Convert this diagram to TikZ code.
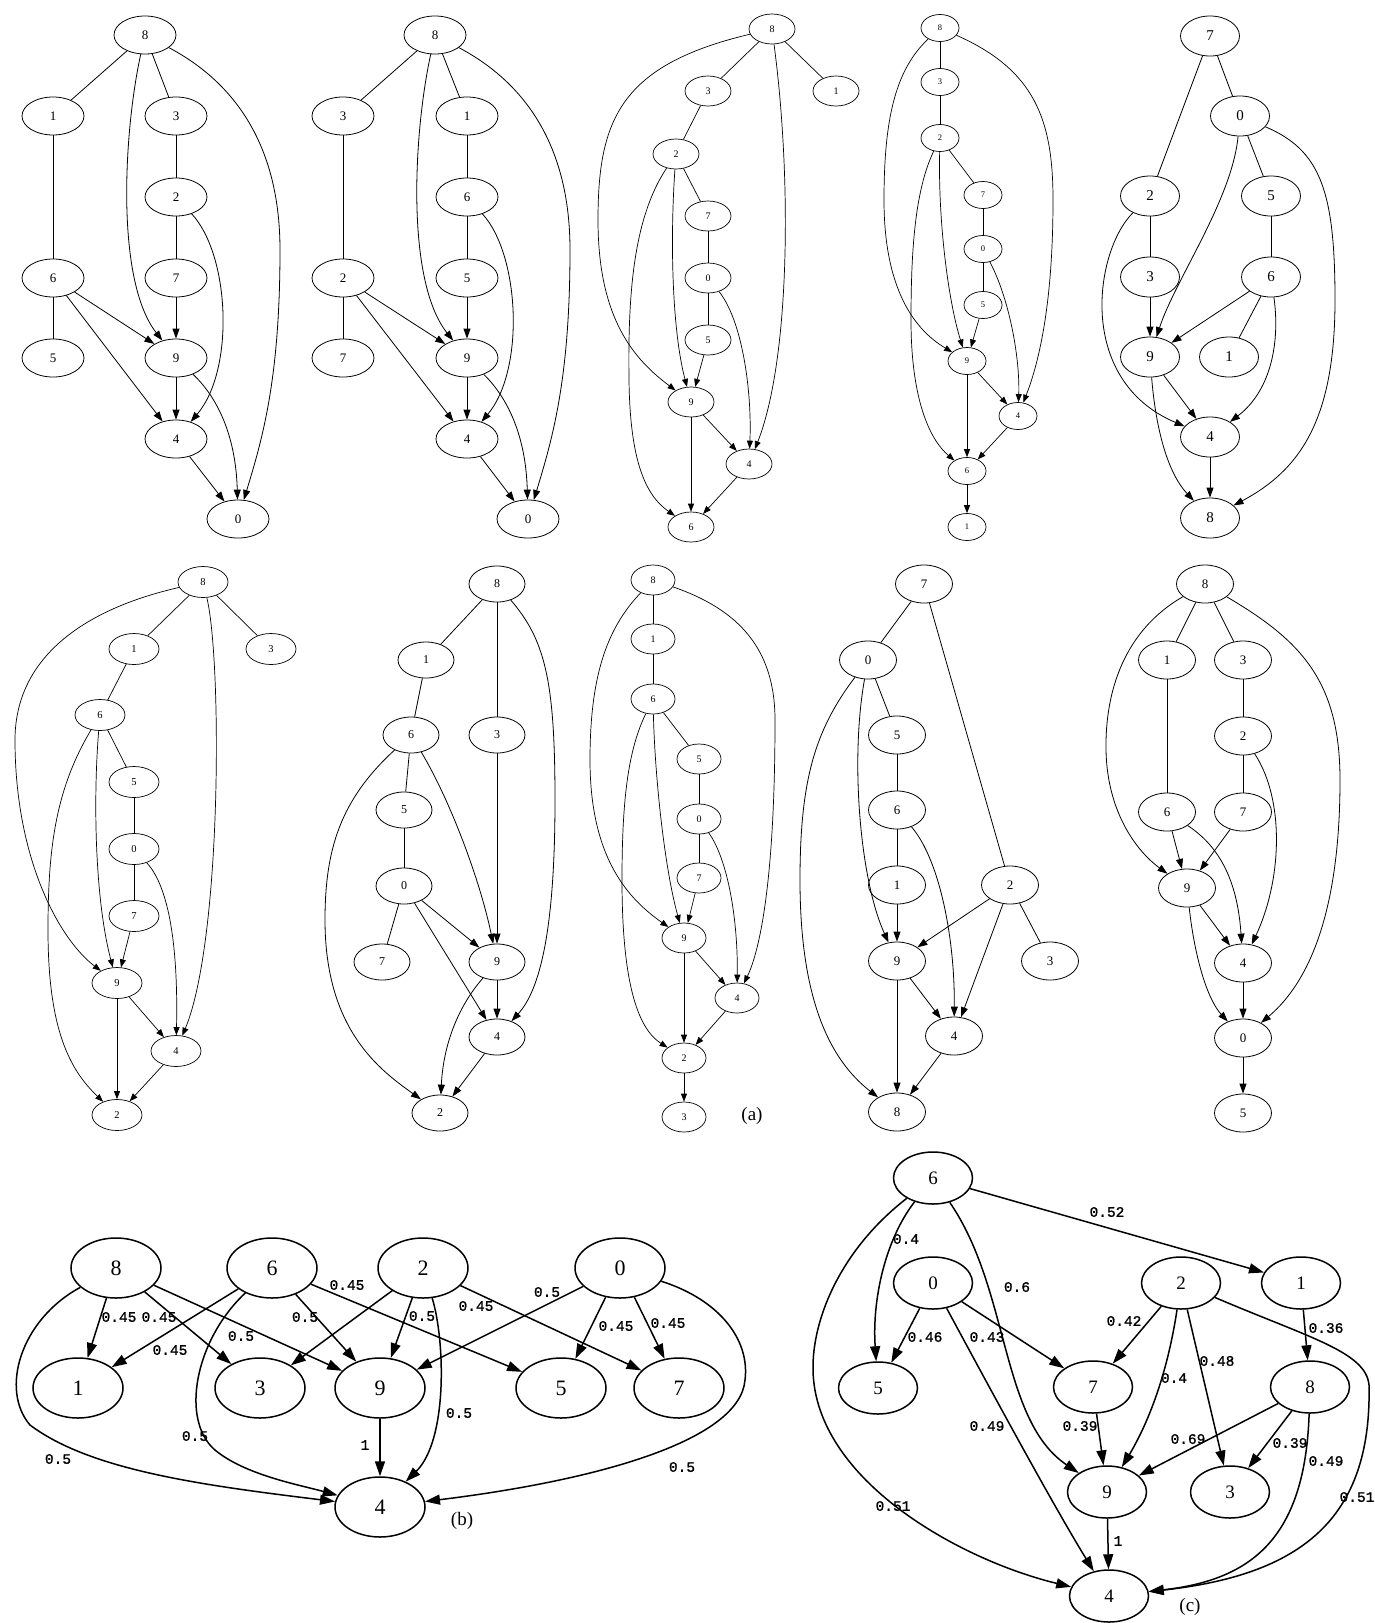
\documentclass[tikz,border=0pt]{standalone}
\usepackage{fontspec}
\setmainfont{Liberation Serif}
\newfontfamily\wfont[FakeBold=1.2]{Liberation Mono}
\usepackage{tikz}
\usetikzlibrary{shapes.geometric, arrows.meta}
\tikzset{
  vtx/.style={ellipse, draw, inner sep=0pt, line width=0.8pt},
  vA/.style={vtx, minimum width=62pt, minimum height=38pt, font=\fontsize{13}{13}\selectfont},
  vB/.style={vtx, line width=0.7pt, minimum width=46pt, minimum height=30pt, font=\fontsize{10}{10}\selectfont},
  vC/.style={vtx, line width=0.7pt, minimum width=38pt, minimum height=27pt, font=\fontsize{8.5}{8.5}\selectfont},
  vD/.style={vtx, minimum width=59pt, minimum height=40pt, font=\fontsize{15}{15}\selectfont},
  vE/.style={vtx, line width=0.7pt, minimum width=50pt, minimum height=31pt, font=\fontsize{10.5}{10.5}\selectfont},
  vF/.style={vtx, minimum width=56pt, minimum height=36pt, font=\fontsize{12}{12}\selectfont},
  vG/.style={vtx, line width=0.7pt, minimum width=44pt, minimum height=30pt, font=\fontsize{10}{10}\selectfont},
  vH/.style={vtx, minimum width=57pt, minimum height=38pt, font=\fontsize{13}{13}\selectfont},
  wvtx/.style={vtx, line width=1.5pt, minimum width=90pt, minimum height=60pt, font=\fontsize{22}{22}\selectfont},
  cvtx/.style={vtx, line width=1.5pt, minimum width=79pt, minimum height=52pt, font=\fontsize{19}{19}\selectfont},
  edgeu/.style={line width=0.8pt},
  edged/.style={-{Triangle[length=10pt,width=7pt]}, line width=0.8pt},
  edges/.style={-{Triangle[length=8pt,width=6pt]}, line width=0.7pt},
  edgew/.style={-{Triangle[length=15pt,width=10pt]}, line width=1.5pt},
  wlab/.style={font=\wfont\fontsize{14.5}{14.5}\selectfont, inner sep=0pt},
  figtag/.style={font=\fontsize{19}{19}\selectfont, inner sep=0pt}
}

\begin{document}
\begin{tikzpicture}[x=1pt, y=-1pt]
  \useasboundingbox (0,0) rectangle (1374,1623);

  % (a) row 1, graph 1
  \foreach \n/\x/\y in {8/145/35, 1/53/116, 3/176/116, 2/176/197, 6/53/278, 7/176/278, 5/53/358, 9/176/358, 4/176/439, 0/238/519}
    \node[vA] (g1-\n) at (\x,\y) {\n};
  \foreach \a/\b in {8/1, 8/3, 1/6, 3/2, 2/7, 6/5}
    \draw[edgeu] (g1-\a) -- (g1-\b);
  \foreach \a/\b in {7/9, 6/9, 6/4, 9/4, 4/0}
    \draw[edged] (g1-\a) -- (g1-\b);
  \draw[edged] (g1-8) .. controls (124,130) and (115,280) .. (g1-9);
  \draw[edged] (g1-8) .. controls (230,80) and (280,140) .. (280,250) .. controls (280,380) and (262,440) .. (g1-0);
  \draw[edged] (g1-2) .. controls (230,255) and (235,370) .. (g1-4);
  \draw[edged] (g1-9) .. controls (220,400) and (236,440) .. (g1-0);

  % (a) row 1, graph 2
  \foreach \n/\x/\y in {8/435/35, 3/343/116, 1/467/116, 6/467/197, 2/343/278, 5/467/278, 7/343/358, 9/467/358, 4/467/439, 0/528/519}
    \node[vA] (g2-\n) at (\x,\y) {\n};
  \foreach \a/\b in {8/3, 8/1, 3/2, 1/6, 6/5, 2/7}
    \draw[edgeu] (g2-\a) -- (g2-\b);
  \foreach \a/\b in {5/9, 2/9, 2/4, 9/4, 4/0}
    \draw[edged] (g2-\a) -- (g2-\b);
  \draw[edged] (g2-8) .. controls (414,130) and (405,280) .. (g2-9);
  \draw[edged] (g2-8) .. controls (520,80) and (570,140) .. (570,250) .. controls (570,380) and (552,440) .. (g2-0);
  \draw[edged] (g2-6) .. controls (520,255) and (525,370) .. (g2-4);
  \draw[edged] (g2-9) .. controls (510,400) and (526,440) .. (g2-0);

  % (a) row 1, graph 3
  \foreach \n/\x/\y in {8/772/29, 3/708/91, 1/836/91, 2/676/154, 7/708/216, 0/708/278, 5/708/340, 9/691/402, 4/749/464, 6/691/527}
    \node[vB] (g3-\n) at (\x,\y) {\n};
  \foreach \a/\b in {8/3, 8/1, 3/2, 2/7, 7/0, 0/5}
    \draw[edgeu, line width=0.7pt] (g3-\a) -- (g3-\b);
  \foreach \a/\b in {5/9, 9/4, 9/6, 4/6}
    \draw[edges] (g3-\a) -- (g3-\b);
  \draw[edges] (g3-8) .. controls (620,65) and (598,120) .. (598,220) .. controls (598,320) and (635,360) .. (g3-9);
  \draw[edges] (g3-8) .. controls (792,180) and (790,360) .. (g3-4);
  \draw[edges] (g3-2) .. controls (670,240) and (672,330) .. (g3-9);
  \draw[edges] (g3-2) .. controls (632,220) and (628,300) .. (629,380) .. controls (630,460) and (645,495) .. (g3-6);
  \draw[edges] (g3-0) .. controls (742,320) and (752,390) .. (g3-4);

  % (a) row 1, graph 4
  \foreach \n/\x/\y in {8/940/28, 3/940/82, 2/940/138, 7/983/195, 0/983/249, 5/983/305, 9/967/361, 4/1018/416, 6/967/471, 1/967/527}
    \node[vC] (g4-\n) at (\x,\y) {\n};
  \foreach \a/\b in {8/3, 3/2, 2/7, 7/0, 0/5}
    \draw[edgeu, line width=0.7pt] (g4-\a) -- (g4-\b);
  \foreach \a/\b in {5/9, 9/4, 9/6, 4/6, 6/1}
    \draw[edges] (g4-\a) -- (g4-\b);
  \draw[edges] (g4-8) .. controls (895,70) and (884,120) .. (884,200) .. controls (884,290) and (915,330) .. (g4-9);
  \draw[edges] (g4-8) .. controls (1035,70) and (1053,120) .. (1053,200) .. controls (1053,300) and (1040,360) .. (g4-4);
  \draw[edges] (g4-2) .. controls (938,220) and (948,300) .. (g4-9);
  \draw[edges] (g4-2) .. controls (915,190) and (911,250) .. (911,320) .. controls (911,400) and (930,440) .. (g4-6);
  \draw[edges] (g4-0) .. controls (1010,300) and (1020,360) .. (g4-4);

  % (a) row 1, graph 5
  \foreach \n/\x/\y in {7/1210/36, 0/1240/116, 2/1150/196, 5/1271/196, 3/1150/277, 6/1271/277, 9/1150/357, 1/1229/357, 4/1210/437, 8/1210/518}
    \node[vD] (g5-\n) at (\x,\y) {\n};
  \foreach \a/\b in {7/0, 7/2, 0/5, 2/3, 5/6, 6/1}
    \draw[edgeu] (g5-\a) -- (g5-\b);
  \foreach \a/\b in {3/9, 6/9, 9/4, 4/8}
    \draw[edged] (g5-\a) -- (g5-\b);
  \draw[edged] (g5-0) .. controls (1232,200) and (1175,280) .. (g5-9);
  \draw[edged] (g5-0) .. controls (1320,150) and (1335,190) .. (1335,300) .. controls (1335,420) and (1300,470) .. (g5-8);
  \draw[edged] (g5-2) .. controls (1095,250) and (1075,380) .. (g5-4);
  \draw[edged] (g5-6) .. controls (1280,340) and (1272,390) .. (g5-4);
  \draw[edged] (g5-9) .. controls (1155,420) and (1165,470) .. (g5-8);

  % (a) row 2, graph 6
  \foreach \n/\x/\y in {8/203/582, 1/134/649, 3/271/649, 6/100/715, 5/134/782, 0/134/849, 7/134/916, 9/117/983, 4/176/1051, 2/117/1115}
    \node[vE] (g6-\n) at (\x,\y) {\n};
  \foreach \a/\b in {8/1, 8/3, 1/6, 6/5, 5/0, 0/7}
    \draw[edgeu, line width=0.7pt] (g6-\a) -- (g6-\b);
  \foreach \a/\b in {7/9, 9/4, 9/2, 4/2}
    \draw[edges] (g6-\a) -- (g6-\b);
  \draw[edges] (g6-8) .. controls (80,610) and (15,660) .. (15,740) .. controls (15,860) and (60,940) .. (g6-9);
  \draw[edges] (g6-8) .. controls (222,660) and (222,940) .. (g6-4);
  \draw[edges] (g6-6) .. controls (93,800) and (95,900) .. (g6-9);
  \draw[edges] (g6-6) .. controls (55,790) and (48,850) .. (48,930) .. controls (48,1030) and (70,1070) .. (g6-2);
  \draw[edges] (g6-0) .. controls (172,890) and (178,960) .. (g6-4);

  % (a) row 2, graph 7
  \foreach \n/\x/\y in {8/497/584, 1/426/660, 6/411/735, 3/497/735, 5/404/810, 0/404/886, 7/382/962, 9/497/962, 4/497/1037, 2/440/1113}
    \node[vF] (g7-\n) at (\x,\y) {\n};
  \foreach \a/\b in {8/1, 8/3, 1/6, 6/5, 5/0, 0/7}
    \draw[edgeu] (g7-\a) -- (g7-\b);
  \foreach \a/\b in {3/9, 0/9, 0/4, 9/4, 4/2}
    \draw[edged] (g7-\a) -- (g7-\b);
  \draw[edged] (g7-8) .. controls (545,640) and (555,680) .. (555,800) .. controls (555,930) and (540,990) .. (g7-4);
  \draw[edged] (g7-6) .. controls (450,800) and (480,880) .. (g7-9);
  \draw[edged] (g7-6) .. controls (340,800) and (325,850) .. (325,920) .. controls (325,1030) and (380,1070) .. (g7-2);
  \draw[edged] (g7-9) .. controls (455,1010) and (443,1050) .. (g7-2);

  % (a) row 2, graph 8
  \foreach \n/\x/\y in {8/653/580, 1/653/639, 6/653/699, 5/699/759, 0/699/819, 7/699/878, 9/684/938, 4/737/998, 2/684/1058, 3/684/1117}
    \node[vG] (g8-\n) at (\x,\y) {\n};
  \foreach \a/\b in {8/1, 1/6, 6/5, 5/0, 0/7}
    \draw[edgeu, line width=0.7pt] (g8-\a) -- (g8-\b);
  \foreach \a/\b in {7/9, 9/4, 9/2, 4/2, 2/3}
    \draw[edges] (g8-\a) -- (g8-\b);
  \draw[edges] (g8-8) .. controls (605,630) and (590,680) .. (590,760) .. controls (590,860) and (630,900) .. (g8-9);
  \draw[edges] (g8-8) .. controls (740,610) and (775,650) .. (775,720) .. controls (775,880) and (760,950) .. (g8-4);
  \draw[edges] (g8-6) .. controls (655,780) and (665,870) .. (g8-9);
  \draw[edges] (g8-6) .. controls (628,750) and (622,800) .. (622,880) .. controls (622,990) and (640,1030) .. (g8-2);
  \draw[edges] (g8-0) .. controls (728,860) and (738,920) .. (g8-4);
  \node[figtag] (taga) at (752,1116) {(a)};

  % (a) row 2, graph 9
  \foreach \n/\x/\y in {7/924/584, 0/868/660, 5/897/735, 6/897/810, 1/897/885, 2/1010/885, 9/897/961, 3/1050/961, 4/954/1036, 8/897/1112}
    \node[vH] (g9-\n) at (\x,\y) {\n};
  \foreach \a/\b in {7/0, 7/2, 0/5, 5/6, 6/1, 2/3}
    \draw[edgeu] (g9-\a) -- (g9-\b);
  \foreach \a/\b in {1/9, 2/9, 2/4, 9/4, 9/8, 4/8}
    \draw[edged] (g9-\a) -- (g9-\b);
  \draw[edged] (g9-0) .. controls (850,760) and (860,880) .. (g9-9);
  \draw[edged] (g9-0) .. controls (815,730) and (800,780) .. (800,880) .. controls (800,1000) and (830,1060) .. (g9-8);
  \draw[edged] (g9-6) .. controls (940,860) and (955,940) .. (g9-4);

  % (a) row 2, graph 10
  \foreach \n/\x/\y in {8/1205/584, 1/1167/660, 3/1243/660, 2/1243/736, 6/1167/812, 7/1243/812, 9/1187/888, 4/1243/963, 0/1243/1038, 5/1243/1113}
    \node[vH] (g10-\n) at (\x,\y) {\n};
  \foreach \a/\b in {8/1, 8/3, 1/6, 3/2, 2/7}
    \draw[edgeu] (g10-\a) -- (g10-\b);
  \foreach \a/\b in {6/9, 7/9, 9/4, 4/0, 0/5}
    \draw[edged] (g10-\a) -- (g10-\b);
  \draw[edged] (g10-8) .. controls (1125,630) and (1105,690) .. (1106,750) .. controls (1107,810) and (1135,850) .. (g10-9);
  \draw[edged] (g10-8) .. controls (1300,640) and (1340,680) .. (1340,780) .. controls (1340,930) and (1300,990) .. (g10-0);
  \draw[edged] (g10-2) .. controls (1285,800) and (1282,880) .. (g10-4);
  \draw[edged] (g10-6) .. controls (1225,850) and (1238,890) .. (g10-4);
  \draw[edged] (g10-9) .. controls (1195,960) and (1208,1000) .. (g10-0);

  % (b) weighted graph
  \foreach \n/\x/\y in {8/116/1268, 6/272/1268, 2/423/1268, 0/620/1268, 1/78/1388, 3/260/1388, 9/380/1388, 5/561/1388, 7/679/1388, 4/380/1507}
    \node[wvtx] (b\n) at (\x,\y) {\n};
  \foreach \a/\b in {8/1, 8/3, 8/9, 6/1, 6/9, 6/5, 2/3, 2/9, 2/7, 0/9, 0/5, 0/7, 9/4}
    \draw[edgew] (b\a) -- (b\b);
  \draw[edgew] (b8) .. controls (20,1320) and (0,1390) .. (30,1425) .. controls (90,1470) and (200,1485) .. (b4);
  \draw[edgew] (b6) .. controls (195,1340) and (180,1420) .. (215,1450) .. controls (245,1475) and (300,1485) .. (b4);
  \draw[edgew] (b2) .. controls (445,1340) and (448,1440) .. (b4);
  \draw[edgew] (b0) .. controls (720,1300) and (750,1340) .. (745,1380) .. controls (740,1440) and (600,1480) .. (b4);
  \foreach \t/\x/\y [count=\i] in {0.45/119/1317, 0.45/159/1317, 0.5/241/1336, 0.45/170/1350, 0.45/347/1285, 0.5/305/1317, 0.5/195/1436, 0.5/58/1459, 1/365/1445, 0.5/422/1316, 0.45/476/1306, 0.5/547/1292, 0.45/616/1326, 0.45/668/1323, 0.5/459/1413, 0.5/682/1467}
    \node[wlab] (bl\i) at (\x,\y) {\t};
  \node[figtag] (tagb) at (462,1521) {(b)};

  % (c) weighted graph
  \foreach \n/\x/\y in {6/933/1178, 0/933/1283, 2/1181/1283, 1/1301/1283, 5/878/1388, 7/1093/1387, 8/1310/1387, 9/1107/1492, 3/1230/1492, 4/1109/1596}
    \node[cvtx] (c\n) at (\x,\y) {\n};
  \foreach \a/\b in {6/1, 0/5, 0/7, 2/7, 2/3, 1/8, 7/9, 8/9, 8/3, 9/4}
    \draw[edgew] (c\a) -- (c\b);
  \draw[edgew] (c6) .. controls (885,1240) and (872,1300) .. (c5);
  \draw[edgew] (c6) .. controls (1010,1290) and (1000,1420) .. (c9);
  \draw[edgew] (c6) .. controls (840,1250) and (812,1320) .. (813,1370) .. controls (815,1480) and (960,1560) .. (c4);
  \draw[edgew] (c0) .. controls (980,1370) and (1050,1500) .. (c4);
  \draw[edgew] (c2) .. controls (1168,1370) and (1150,1420) .. (c9);
  \draw[edgew] (c2) .. controls (1310,1338) and (1366,1352) .. (1369,1385) .. controls (1372,1520) and (1300,1575) .. (c4);
  \draw[edgew] (c8) .. controls (1305,1540) and (1250,1580) .. (c4);
  \foreach \t/\x/\y [count=\i] in {0.4/906/1239, 0.52/1107/1212, 0.6/1017/1287, 0.46/925/1337, 0.43/987/1337, 0.42/1124/1321, 0.36/1326/1328, 0.48/1217/1361, 0.4/1174/1378, 0.49/987/1426, 0.39/1080/1426, 0.69/1188/1439, 0.39/1290/1443, 0.49/1326/1461, 0.51/893/1506, 0.51/1357/1497, 1/1118/1541}
    \node[wlab] (cl\i) at (\x,\y) {\t};
  \node[figtag] (tagc) at (1190,1607) {(c)};
\end{tikzpicture}
\end{document}
